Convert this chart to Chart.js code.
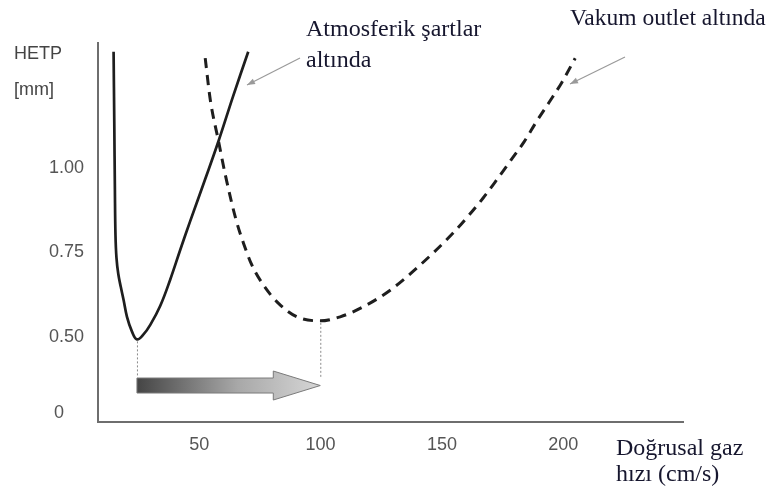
<!DOCTYPE html>
<html>
<head>
<meta charset="utf-8">
<script src="https://cdn.jsdelivr.net/npm/chart.js@4.4.1/dist/chart.umd.min.js"></script>
<style>
  html, body { margin: 0; padding: 0; background: #ffffff; }
  #wrap { width: 775px; height: 493px; position: relative; }
</style>
</head>
<body>
<div id="wrap"><canvas id="c" width="775" height="493"></canvas></div>
<script>
// ---- data ----
const SERIES_NAMES = ['Atmosferik şartlar altında', 'Vakum outlet altında'];
const atmosX = [14.76, 15.05, 15.30, 15.54, 15.95, 16.70, 17.72, 18.88, 20.28, 22.34, 24.39, 26.99, 29.87, 33.99, 38.11, 42.23, 46.35, 52.51, 57.99, 64.04, 70.22];
const atmosY = [1.346, 1.134, 0.936, 0.802, 0.734, 0.686, 0.648, 0.609, 0.559, 0.515, 0.492, 0.506, 0.535, 0.592, 0.670, 0.758, 0.844, 0.968, 1.081, 1.215, 1.346];
const vakumX = [52.5, 54.6, 58.0, 60.8, 65.2, 68.3, 71.7, 76.5, 82.7, 90.3, 99.9, 108.1, 117.7, 128.7, 140.3, 154.1, 160.7, 166.9, 172.6, 178.5, 183.9, 188.8, 193.9, 199.4, 204.9];
const vakumY = [1.327, 1.203, 1.080, 0.980, 0.847, 0.777, 0.713, 0.653, 0.599, 0.559, 0.547, 0.559, 0.589, 0.638, 0.708, 0.804, 0.857, 0.911, 0.966, 1.025, 1.079, 1.137, 1.193, 1.255, 1.327];
const X_TICKS = [50, 100, 150, 200];
const Y_TICK_VALUES = [0.2743, 0.5, 0.75, 1.0];
const Y_TICK_LABELS = ['0', '0.50', '0.75', '1.00'];
const ARROW_LEVEL = 0.355;

const toPts = (xs, ys) => xs.map((x, i) => ({ x: x, y: ys[i] }));

function minPoint(xs, ys) {
  let k = 0;
  ys.forEach((v, i) => { if (v < ys[k]) k = i; });
  return { x: xs[k], y: ys[k] };
}

const SANS = '"Liberation Sans", Arial, sans-serif';
const SERIF = '"Liberation Serif", "Times New Roman", serif';

const overlay = {
  id: 'overlay',
  afterDatasetsDraw(chart) {
    const ctx = chart.ctx;
    const xs = chart.scales.x, ys = chart.scales.y;
    ctx.save();

    // dotted guides and gradient arrow between the two minima
    const m1 = minPoint(atmosX, atmosY);
    const m2 = minPoint(vakumX, vakumY);
    const x1 = xs.getPixelForValue(m1.x), x2 = xs.getPixelForValue(m2.x);
    const yc = ys.getPixelForValue(ARROW_LEVEL);
    ctx.strokeStyle = '#8a8a8a';
    ctx.lineWidth = 1;
    ctx.setLineDash([2, 2]);
    ctx.beginPath();
    ctx.moveTo(x1 + 0.5, ys.getPixelForValue(m1.y) + 2);
    ctx.lineTo(x1 + 0.5, yc - 8);
    ctx.moveTo(x2 + 0.5, ys.getPixelForValue(m2.y) + 2);
    ctx.lineTo(x2 + 0.5, yc - 7);
    ctx.stroke();
    ctx.setLineDash([]);

    const bh = 7.5, hh = 14.5, hl = 47;
    const grad = ctx.createLinearGradient(x1, 0, x2, 0);
    grad.addColorStop(0, '#454545');
    grad.addColorStop(0.55, '#a8a8a8');
    grad.addColorStop(1, '#d6d6d6');
    ctx.beginPath();
    ctx.moveTo(x1, yc - bh);
    ctx.lineTo(x2 - hl, yc - bh);
    ctx.lineTo(x2 - hl, yc - hh);
    ctx.lineTo(x2, yc);
    ctx.lineTo(x2 - hl, yc + hh);
    ctx.lineTo(x2 - hl, yc + bh);
    ctx.lineTo(x1, yc + bh);
    ctx.closePath();
    ctx.fillStyle = grad;
    ctx.fill();
    ctx.strokeStyle = '#7a7a7a';
    ctx.lineWidth = 1;
    ctx.stroke();

    // y-axis title
    ctx.fillStyle = '#444444';
    ctx.font = '18px ' + SANS;
    ctx.textAlign = 'left';
    ctx.textBaseline = 'middle';
    ctx.fillText('HETP', 14, 54);
    ctx.fillText('[mm]', 14, 90);

    // serif annotations
    ctx.fillStyle = '#16162e';
    ctx.font = '24px ' + SERIF;
    ctx.textBaseline = 'alphabetic';
    ctx.fillText('Atmosferik şartlar', 306, 36);
    ctx.fillText('altında', 306, 67);
    ctx.font = '23.5px ' + SERIF;
    ctx.fillText('Vakum outlet altında', 570, 25);
    ctx.font = '24px ' + SERIF;
    ctx.fillText('Doğrusal gaz', 616, 455);
    ctx.fillText('hızı (cm/s)', 616, 481);

    // pointer arrows
    function pointer(fx, fy, tx, ty) {
      ctx.strokeStyle = '#9a9a9a';
      ctx.fillStyle = '#9a9a9a';
      ctx.lineWidth = 1.2;
      ctx.beginPath();
      ctx.moveTo(fx, fy);
      ctx.lineTo(tx, ty);
      ctx.stroke();
      const a = Math.atan2(ty - fy, tx - fx);
      const L = 8, W = 3;
      ctx.beginPath();
      ctx.moveTo(tx, ty);
      ctx.lineTo(tx - L * Math.cos(a) + W * Math.sin(a), ty - L * Math.sin(a) - W * Math.cos(a));
      ctx.lineTo(tx - L * Math.cos(a) - W * Math.sin(a), ty - L * Math.sin(a) + W * Math.cos(a));
      ctx.closePath();
      ctx.fill();
    }
    pointer(300, 58, 247, 85);
    pointer(625, 57, 570, 84);

    ctx.restore();
  }
};

new Chart(document.getElementById('c'), {
  type: 'line',
  data: {
    datasets: [
      {
        label: SERIES_NAMES[0],
        data: toPts(atmosX, atmosY),
        borderColor: '#1e1e1e',
        borderWidth: 2.7,
        pointRadius: 0,
        fill: false,
        tension: 0.4
      },
      {
        label: SERIES_NAMES[1],
        data: toPts(vakumX, vakumY),
        borderColor: '#1e1e1e',
        borderWidth: 3,
        borderDash: [10, 7],
        pointRadius: 0,
        fill: false,
        cubicInterpolationMode: 'monotone'
      }
    ]
  },
  options: {
    responsive: false,
    animation: false,
    events: [],
    layout: { padding: { top: 43, right: 92, bottom: 0, left: 0 } },
    plugins: { legend: { display: false }, tooltip: { enabled: false }, title: { display: false } },
    scales: {
      x: {
        type: 'linear',
        min: 8.34,
        max: 249.3,
        grid: { display: false, drawTicks: false },
        border: { display: true, color: '#6e6e6e', width: 2 },
        afterBuildTicks(scale) { scale.ticks = X_TICKS.map(v => ({ value: v })); },
        afterFit(scale) { scale.height = 71; },
        ticks: {
          color: '#555555',
          font: { family: SANS, size: 18 },
          padding: 12,
          maxRotation: 0,
          autoSkip: false,
          callback: (v) => String(v)
        }
      },
      y: {
        type: 'linear',
        min: 0.2467,
        max: 1.372,
        grid: { display: false, drawTicks: false },
        border: { display: true, color: '#6e6e6e', width: 2 },
        afterBuildTicks(scale) { scale.ticks = Y_TICK_VALUES.map(v => ({ value: v })); },
        afterFit(scale) { scale.width = 98; },
        ticks: {
          color: '#555555',
          font: { family: SANS, size: 18 },
          padding: 14,
          autoSkip: false,
          callback: (v, i) => {
            const lbl = Y_TICK_LABELS[i];
            return lbl === '0' ? lbl + '\u00a0\u00a0\u00a0\u00a0' : lbl;
          }
        }
      }
    }
  },
  plugins: [overlay]
});
</script>
</body>
</html>
